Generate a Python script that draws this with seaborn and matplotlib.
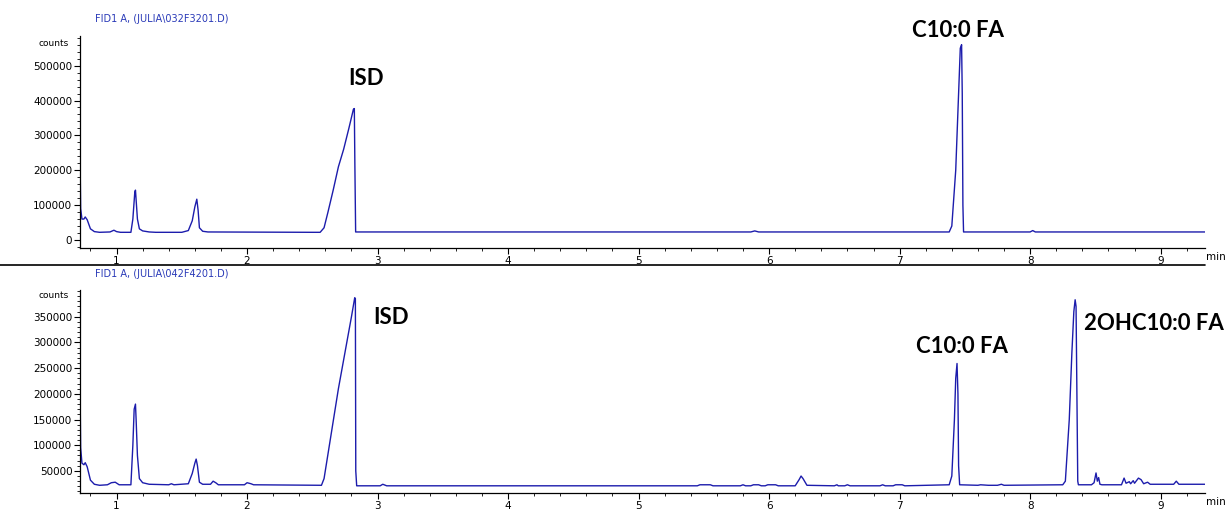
import matplotlib
matplotlib.use("Agg")
import matplotlib.pyplot as plt
import seaborn as sns
import pandas as pd
from matplotlib.lines import Line2D
from matplotlib.ticker import MultipleLocator

# ---------------- data ----------------
top_time = [0.72, 0.725, 0.735, 0.75, 0.76, 0.775, 0.80, 0.83, 0.87, 0.95, 0.98, 1.00, 1.03,
            1.11, 1.125, 1.14, 1.145, 1.15, 1.16, 1.175, 1.20, 1.25, 1.30,
            1.50, 1.55, 1.58, 1.60, 1.615, 1.625, 1.635, 1.66, 1.70,
            2.50, 2.56, 2.59, 2.62, 2.66, 2.70, 2.74, 2.78, 2.815, 2.822, 2.826, 2.832, 3.0,
            5.86, 5.89, 5.92,
            7.38, 7.40, 7.43, 7.455, 7.465, 7.475, 7.48, 7.485, 7.49,
            8.0, 8.02, 8.04, 9.34]
top_counts = [250000, 90000, 60000, 60000, 66000, 58000, 32000, 24000, 22000, 23000, 28000, 24000, 22000,
              22000, 60000, 138000, 143000, 115000, 60000, 32000, 26000, 23000, 22000,
              22000, 27000, 55000, 95000, 117000, 85000, 35000, 25000, 23000,
              22000, 22000, 35000, 80000, 143000, 210000, 260000, 320000, 375000, 377000, 220000, 23000, 23000,
              23000, 26000, 23000,
              23000, 40000, 200000, 450000, 550000, 560000, 420000, 100000, 23000,
              23000, 27000, 23000, 23000]

bot_time = [0.72, 0.725, 0.735, 0.75, 0.76, 0.775, 0.80, 0.83, 0.87, 0.93, 0.96, 0.99, 1.02,
            1.11, 1.125, 1.135, 1.145, 1.15, 1.16, 1.175, 1.20, 1.25, 1.40, 1.42, 1.44,
            1.55, 1.58, 1.60, 1.61, 1.62, 1.635, 1.66, 1.72, 1.74, 1.76, 1.78, 1.98, 2.0, 2.03, 2.05,
            2.57, 2.59, 2.65, 2.70, 2.75, 2.80, 2.825, 2.83, 2.833, 2.84, 3.02, 3.04, 3.07,
            5.45, 5.47, 5.55, 5.57, 5.78, 5.80, 5.82, 5.86, 5.88, 5.92, 5.94, 5.97, 5.99, 6.05, 6.07,
            6.20, 6.23, 6.245, 6.26, 6.29, 6.50, 6.52, 6.53, 6.58, 6.60, 6.62, 6.85, 6.87, 6.89,
            6.95, 6.97, 7.02, 7.04,
            7.38, 7.40, 7.42, 7.43, 7.44, 7.447, 7.452, 7.46,
            7.60, 7.62, 7.68, 7.75, 7.78, 7.80,
            8.25, 8.27, 8.30, 8.32, 8.335, 8.345, 8.352, 8.36, 8.365, 8.37,
            8.47, 8.49, 8.505, 8.515, 8.525, 8.535, 8.55, 8.70, 8.72, 8.735, 8.76, 8.77, 8.79, 8.80,
            8.83, 8.85, 8.87, 8.90, 8.92, 9.10, 9.12, 9.14, 9.34]
bot_counts = [220000, 95000, 65000, 62000, 66000, 58000, 32000, 24000, 22000, 23000, 27000, 28000, 23000,
              23000, 100000, 170000, 180000, 150000, 80000, 35000, 27000, 24000, 23000, 25000, 23000,
              25000, 45000, 65000, 73000, 60000, 28000, 24000, 24000, 30000, 27000, 23000, 23000, 27000, 25000, 23000,
              22000, 35000, 130000, 210000, 280000, 350000, 387000, 385000, 50000, 21000, 21000, 24000, 21000,
              21000, 23000, 23000, 21000, 21000, 23000, 21000, 21000, 23000, 23000, 21000, 21000, 23000, 23000, 21000,
              21000, 33000, 40000, 35000, 22000, 21000, 23000, 21000, 21000, 23000, 21000, 21000, 23000, 21000,
              21000, 23000, 23000, 21000,
              23000, 40000, 150000, 230000, 259000, 200000, 60000, 23000,
              22000, 23000, 22000, 22000, 24000, 22000,
              23000, 30000, 150000, 280000, 360000, 383000, 370000, 150000, 30000, 23000,
              23000, 27000, 46000, 30000, 37000, 24000, 23000, 23000, 36000, 26000, 29000, 25000, 31000, 26000,
              36000, 33000, 25000, 28000, 24000, 24000, 30000, 24000, 24000]

top_title = r"FID1 A, (JULIA\032F3201.D)"
bot_title = r"FID1 A, (JULIA\042F4201.D)"

top_labels = ["ISD", "C10:0 FA"]
top_label_pos = [(2.91, 463000), (7.45, 600000)]
bot_labels = ["ISD", "C10:0 FA", "2OHC10:0 FA"]
bot_label_pos = [(3.10, 348000), (7.48, 293000), (8.41, 336000)]

top_df = pd.DataFrame({"time": top_time, "counts": top_counts})
bot_df = pd.DataFrame({"time": bot_time, "counts": bot_counts})

# ---------------- figure ----------------
sns.set_style("ticks", {"axes.edgecolor": "black", "xtick.color": "black", "ytick.color": "black",
                        "text.color": "black"})
plt.rcParams["font.family"] = ["DejaVu Sans"]

fig = plt.figure(figsize=(12.29, 5.12), dpi=100)
W, H = 1229, 512
ax1 = fig.add_axes([80 / W, 1 - 248 / H, 1125 / W, 212 / H])
ax2 = fig.add_axes([80 / W, 1 - 493 / H, 1125 / W, 203 / H])

trace_color = "#1c1cac"
panels = [
    (ax1, top_df, (-23000, 585000), 20000, top_title, top_labels, top_label_pos,
     [0, 100000, 200000, 300000, 400000, 500000], 7 / 212),
    (ax2, bot_df, (7000, 402000), 10000, bot_title, bot_labels, bot_label_pos,
     [50000, 100000, 150000, 200000, 250000, 300000, 350000], 6 / 203),
]

for ax, df, ylim, minor, title, labels, lpos, yt, cdy in panels:
    sns.lineplot(data=df, x="time", y="counts", ax=ax, color=trace_color,
                 linewidth=1.0, estimator=None, sort=False)
    ax.set_xlim(0.72, 9.34)
    ax.set_ylim(*ylim)
    ax.set_yticks(yt)
    ax.set_yticklabels([str(v) for v in yt])
    ax.yaxis.set_minor_locator(MultipleLocator(minor))
    ax.xaxis.set_major_locator(MultipleLocator(1))
    ax.xaxis.set_minor_locator(MultipleLocator(0.2))
    ax.tick_params(axis="both", which="major", labelsize=7.5, length=4, width=0.8, pad=1.5,
                   colors="black")
    ax.tick_params(axis="both", which="minor", length=2, width=0.6)
    ax.set_xlabel("")
    ax.set_ylabel("")
    for s in ["top", "right"]:
        ax.spines[s].set_visible(False)
    ax.spines["left"].set_linewidth(0.9)
    ax.spines["bottom"].set_linewidth(0.9)
    ax.text(-0.01, 1.0 - cdy, "counts", transform=ax.transAxes, ha="right", va="center",
            fontsize=6.5, color="black")
    ax.text(1.0185, -0.018, "min", transform=ax.transAxes, ha="right", va="top", fontsize=7.5,
            color="black")
    ax.text(0.0135, 1.08, title, transform=ax.transAxes, ha="left", va="center",
            fontsize=7, color="#2a3ab8")
    for lab, (x, y) in zip(labels, lpos):
        ha = "left" if lab.startswith("2OH") else "center"
        ax.text(x, y, lab, ha=ha, va="center", fontsize=16, fontweight="bold", color="black",
                family=["Lato", "DejaVu Sans"], clip_on=False)

fig.add_artist(Line2D([0, 1205 / W], [1 - 265 / H, 1 - 265 / H], color="black", linewidth=1.2))

fig.savefig("out.png", dpi=100)
plt.close(fig)
